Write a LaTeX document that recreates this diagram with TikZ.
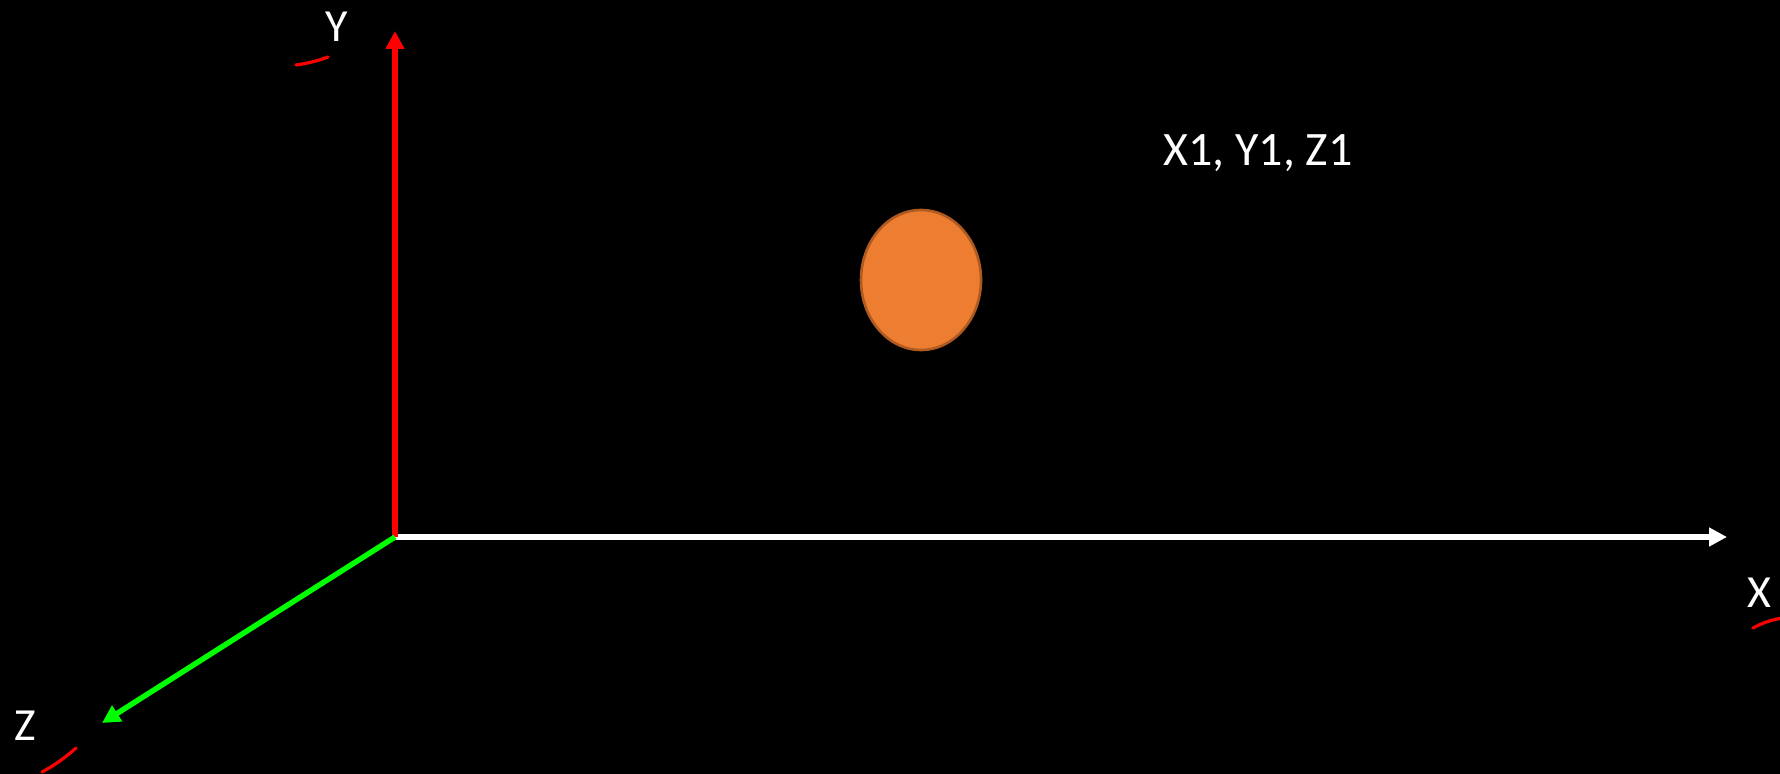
\documentclass[tikz,border=0pt]{standalone}
\usepackage{fontspec}
\setmainfont{Carlito}
\usetikzlibrary{arrows.meta,shapes.geometric}
\definecolor{axisred}{RGB}{255,0,0}
\definecolor{axisgreen}{RGB}{0,255,0}
\definecolor{dotfill}{RGB}{237,125,49}
\definecolor{dotedge}{RGB}{174,90,33}
\tikzset{
  axis/.style={line width=2.7pt, -{Triangle[length=9pt,width=9pt]}},
  lbl/.style={text=white, font=\fontsize{23}{27}\selectfont, inner sep=0pt, anchor=base},
  scribble/.style={draw=axisred, line width=1.6pt, line cap=round},
  dot/.style={ellipse, fill=dotfill, draw=dotedge, line width=1.3pt,
    minimum width=60pt, minimum height=70pt, inner sep=0pt},
}
\begin{document}
\begin{tikzpicture}[x=0.5pt, y=-0.5pt]
  % black page, pixel grid of the reference (y runs down)
  \fill[black] (0,0) rectangle (1780,774);
  \useasboundingbox (0,0) rectangle (1780,774);

  \coordinate (O) at (395,537);
  \coordinate (xend) at (1727,537);
  \coordinate (yend) at (395,31);
  \coordinate (zend) at (102,723);

  \draw[axis, white] (O) -- (xend);
  \draw[axis, axisred] (O) -- (yend);
  \draw[axis, axisgreen] (O) -- (zend);

  \node[lbl] (xlab) at (1759,607) {X};
  \node[lbl] (ylab) at (337,42) {Y};
  \node[lbl] (zlab) at (25,740) {Z};

  \node[dot] (point) at (921,280) {};
  \node[lbl, font=\fontsize{24}{28}\selectfont] (coords) at (1258,166) {X1, Y1, Z1};

  % red pen marks next to the axis letters
  \draw[scribble] (296,65) .. controls (310,63) and (320,60) .. (328,57);
  \draw[scribble] (1753,628) .. controls (1762,623) and (1771,620) .. (1782,618);
  \draw[scribble] (42,772) .. controls (55,765) and (66,757) .. (76,748);
\end{tikzpicture}
\end{document}
